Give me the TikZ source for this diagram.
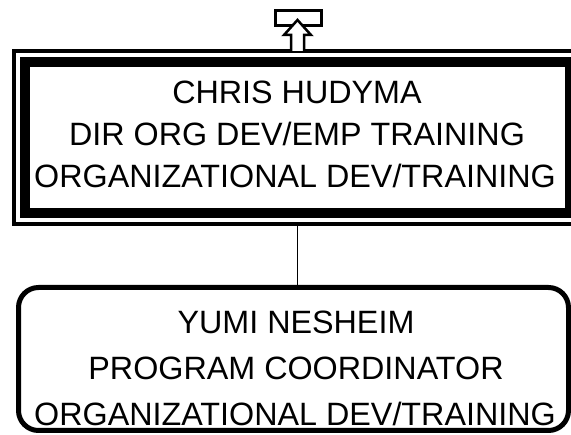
\documentclass[tikz,border=0pt]{standalone}
\usepackage{fontspec}
\setmainfont{Liberation Sans}
\begin{document}
\begin{tikzpicture}[x=1pt,y=-1pt,
  lbl/.style={inner sep=0pt,anchor=base,font=\fontsize{32.3}{38}\selectfont},
  frame/.style={draw,line width=4pt,minimum width=567pt,minimum height=173pt,inner sep=0pt},
  thickbox/.style={draw,line width=10pt,minimum width=545pt,minimum height=151pt,inner sep=0pt},
  staffbox/.style={draw,line width=5pt,rounded corners=20pt,minimum width=550pt,minimum height=143pt,inner sep=0pt},
  link/.style={line width=1.5pt}]
\useasboundingbox (0,0) rectangle (571,435);
% top reference marker
\node[draw,line width=3pt,minimum width=46pt,minimum height=15pt,inner sep=0pt] (marker) at (298.5,18) {};
\node[frame] (bossframe) at (297.5,138) {};
\node[thickbox] (boss) at (297.5,137.5) {};
\coordinate (arrowbase) at (297.5,51);
\draw[line width=2.5pt,fill=white,line join=miter]
  ([xshift=-6.5pt]arrowbase) -- ++(0,-16) -- ++(-7,0) -- (297.5,20) -- (311,35) -- ++(-7,0) -- ([xshift=6.5pt]arrowbase);
\node[lbl] (b1) at (297,104) {CHRIS HUDYMA};
\node[lbl] (b2) at (297,146) {DIR ORG DEV/EMP TRAINING};
\node[lbl] (b3) at (295,188) {ORGANIZATIONAL DEV/TRAINING};
\node[staffbox] (staff) at (293.5,359) {};
\node[lbl] (s1) at (296,334) {YUMI NESHEIM};
\node[lbl] (s2) at (296,380) {PROGRAM COORDINATOR};
\node[lbl] (s3) at (295,426) {ORGANIZATIONAL DEV/TRAINING};
\draw[link] (bossframe.south -| 297.5,0) -- (staff.north -| 297.5,0);
\end{tikzpicture}
\end{document}
